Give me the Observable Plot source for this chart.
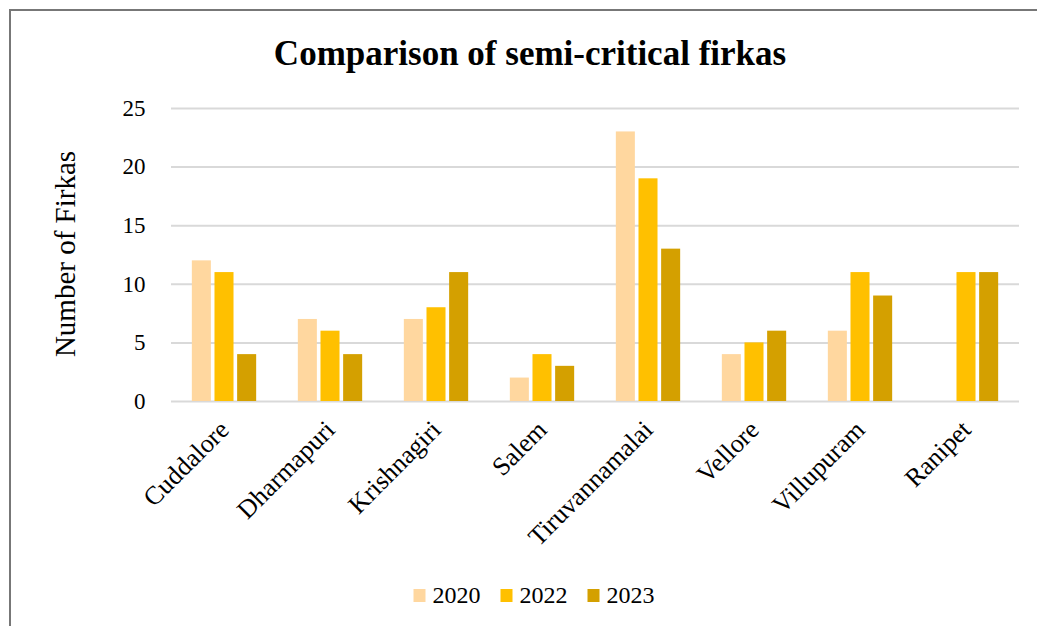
<!DOCTYPE html>
<html>
<head>
<meta charset="utf-8">
<script src="https://cdn.jsdelivr.net/npm/d3@7"></script>
<script src="https://cdn.jsdelivr.net/npm/@observablehq/plot@0.6"></script>
<style>
  html, body { margin: 0; padding: 0; background: #fff; }
  #wrap { position: relative; width: 1037px; height: 626px; overflow: hidden; font-family: "Liberation Serif", "Times New Roman", serif; color: #000; }
  #frame { position: absolute; left: 9px; top: 9px; width: 1100px; height: 700px; border-left: 2px solid #777; border-top: 2px solid #777; }
  #title { position: absolute; left: 530px; top: 37px; transform: translateX(-50%); font-size: 35px; line-height: 34px; font-weight: bold; white-space: nowrap; }
  #ylabel { position: absolute; left: 65px; top: 254px; transform: translate(-50%, -50%) rotate(-90deg); font-size: 29px; white-space: nowrap; }
  #chart { position: absolute; left: 0; top: 0; }
  #legend { position: absolute; left: 534px; top: 583px; transform: translateX(-50%); display: flex; align-items: center; font-size: 24px; line-height: 24px; white-space: nowrap; }
  .item { display: flex; align-items: center; margin: 0 10px; }
  .sw { width: 12px; height: 13px; margin-right: 7px; }
</style>
</head>
<body>
<div id="wrap">
  <div id="frame"></div>
  <div id="chart"></div>
  <div id="title"></div>
  <div id="ylabel"></div>
  <div id="legend"></div>
</div>
<script>
const titleText = "Comparison of semi-critical firkas";
const yLabel = "Number of Firkas";
const districts = ["Cuddalore", "Dharmapuri", "Krishnagiri", "Salem", "Tiruvannamalai", "Vellore", "Villupuram", "Ranipet"];
const years = ["2020", "2022", "2023"];
const v2020 = [12, 7, 7, 2, 23, 4, 6, null];
const v2022 = [11, 6, 8, 4, 19, 5, 11, 11];
const v2023 = [4, 4, 11, 3, 13, 6, 9, 11];
const colors = ["#FFD79F", "#FFC000", "#D4A000"];
const yTicks = [0, 5, 10, 15, 20, 25];

const series = [v2020, v2022, v2023];
const rows = [];
districts.forEach((d, i) => {
  years.forEach((y, j) => {
    rows.push({district: d, year: y, value: series[j][i]});
  });
});

document.getElementById("title").textContent = titleText;
document.getElementById("ylabel").textContent = yLabel;

const chart = Plot.plot({
  width: 1037,
  height: 560,
  marginTop: 108,
  marginBottom: 159,
  marginLeft: 171,
  marginRight: 18,
  style: {fontFamily: "Liberation Serif, Times New Roman, serif", fontSize: "23px", color: "#000", background: "transparent", overflow: "visible"},
  fx: {domain: districts, padding: 0},
  x: {domain: years, paddingInner: 0.16, paddingOuter: 0.92, axis: null, round: false},
  y: {domain: [0, 25]},
  color: {domain: years, range: colors},
  marks: [
    Plot.ruleY(yTicks, {stroke: "#d9d9d9", strokeWidth: 2}),
    Plot.barY(rows.filter(r => r.value != null), {fx: "district", x: "year", y: "value", fill: "year", inset: 0}),
    Plot.axisY({ticks: yTicks, tickSize: 0, tickPadding: 26, label: null, tickFormat: d => String(d), fontSize: 23}),
    Plot.axisFx({anchor: "bottom", tickRotate: -45, tickSize: 0, tickPadding: 24, label: null, fontSize: 26})
  ]
});
document.getElementById("chart").appendChild(chart);

const legend = document.getElementById("legend");
years.forEach((y, j) => {
  const item = document.createElement("div");
  item.className = "item";
  const sw = document.createElement("div");
  sw.className = "sw";
  sw.style.background = colors[j];
  const t = document.createElement("span");
  t.textContent = y;
  item.appendChild(sw);
  item.appendChild(t);
  legend.appendChild(item);
});
</script>
</body>
</html>
